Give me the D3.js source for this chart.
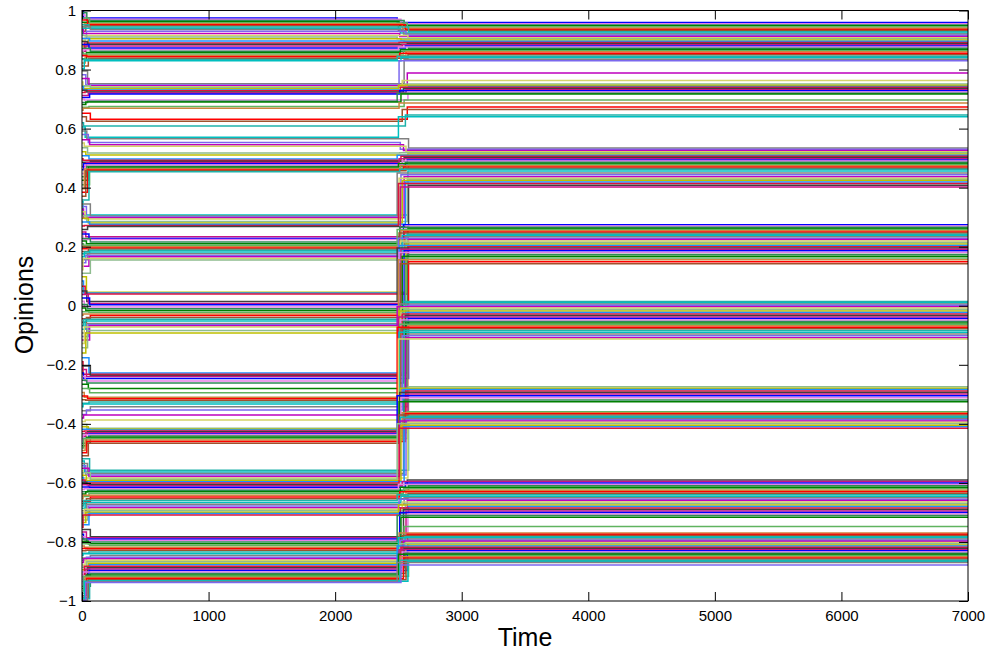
<!DOCTYPE html>
<html><head><meta charset="utf-8">
<script src="https://cdn.jsdelivr.net/npm/d3@7"></script>
<style>body{margin:0;background:#fff} svg{display:block}</style>
</head><body>
<svg id="chart" width="990" height="650"></svg>
<script>
// ---- data ----
const xTicks = [0, 1000, 2000, 3000, 4000, 5000, 6000, 7000];
const yTicks = [-1, -0.8, -0.6, -0.4, -0.2, 0, 0.2, 0.4, 0.6, 0.8, 1];
const xLabel = "Time";
const yLabel = "Opinions";

// opinion at t = 0
const initialOpinions = [
 0.998,0.985,0.992,0.960,0.975,0.940,0.968,0.930,0.952,0.921,0.945,0.905,0.935,0.898,0.915,0.880,0.905,0.870,0.895,0.862,0.885,0.845,0.872,0.836,0.858,0.822,0.848,0.812,0.835,0.803,
 0.795,0.782,0.770,0.758,0.745,0.735,0.742,0.722,0.730,0.712,0.705,0.700,0.688,0.682,0.672,0.662,
 0.652,0.640,0.620,0.605,0.592,0.580,0.562,0.551,0.535,0.522,0.508,0.498,0.486,0.472,0.461,0.448,0.437,0.425,0.410,0.396,0.384,0.371,0.358,
 0.352,0.345,0.336,0.328,0.318,0.305,0.296,0.284,0.270,0.258,
 0.250,0.243,0.236,0.228,0.219,0.210,0.201,0.193,0.184,0.176,0.166,0.156,0.146,0.134,0.122,0.110,
 0.098,0.084,0.066,
 0.050,0.038,0.026,0.015,0.004,-0.008,-0.020,-0.032,-0.044,-0.056,-0.068,-0.080,-0.092,-0.104,-0.116,-0.128,-0.142,-0.160,
 -0.176,-0.190,-0.204,-0.216,-0.228,-0.240,-0.252,-0.266,-0.280,-0.294,-0.306,-0.318,-0.330,-0.342,-0.356,-0.368,-0.380,-0.392,
 -0.402,-0.410,-0.418,-0.426,-0.434,-0.442,-0.450,-0.458,-0.466,-0.474,-0.482,-0.490,-0.498,-0.508,
 -0.518,-0.526,-0.534,-0.542,-0.550,-0.558,-0.566,-0.574,-0.582,-0.590,-0.598,-0.606,-0.614,-0.622,-0.630,-0.638,-0.646,-0.654,-0.662,-0.670,-0.678,-0.686,-0.694,-0.702,-0.710,-0.718,-0.726,-0.734,-0.742,-0.750,
 -0.758,-0.766,-0.774,-0.782,-0.790,-0.798,-0.806,-0.814,-0.822,-0.830,-0.838,-0.846,-0.854,-0.862,-0.870,-0.878,-0.886,-0.894,-0.902,-0.910,-0.918,-0.926,-0.934,-0.942,-0.950,-0.958,-0.966,-0.974,-0.982,-0.988,-0.992,-0.995,-0.997,-0.999
];

// opinion during first plateau (t ~ 60 .. 2500)
const phase1Opinions = [
 0.975,0.970,0.966,0.962,0.958,0.955,0.952,0.948,0.944,0.940,0.936,0.930,0.922,0.915,0.910,0.904,0.897,0.890,0.886,0.880,0.873,0.867,0.862,0.858,0.853,0.848,0.843,0.838,0.834,0.830,
 0.752,0.748,0.745,0.742,0.739,0.735,0.731,0.728,0.724,0.721,0.717,0.697,0.693,0.690,0.675,0.669,
 0.632,0.625,0.609,0.571,0.566,0.553,0.545,0.540,0.517,0.511,0.497,0.493,0.489,0.485,0.481,0.477,0.472,0.469,0.466,0.463,0.460,0.457,0.454,
 0.307,0.304,0.301,0.298,0.294,0.285,0.280,0.276,0.272,0.268,
 0.234,0.228,0.224,0.216,0.210,0.205,0.200,0.196,0.192,0.188,0.182,0.176,0.170,0.166,0.160,0.155,
 0.046,0.043,0.040,
 0.014,0.008,0.003,-0.004,-0.010,-0.016,-0.022,-0.028,-0.033,-0.040,-0.046,-0.052,-0.060,-0.064,-0.068,-0.072,-0.084,-0.092,
 -0.228,-0.232,-0.236,-0.240,-0.246,-0.255,-0.262,-0.280,-0.295,-0.310,-0.315,-0.320,-0.326,-0.333,-0.342,-0.353,-0.370,-0.387,
 -0.415,-0.418,-0.421,-0.424,-0.427,-0.430,-0.434,-0.437,-0.441,-0.445,-0.450,-0.455,-0.460,-0.466,
 -0.557,-0.563,-0.568,-0.573,-0.578,-0.583,-0.588,-0.592,-0.596,-0.600,-0.605,-0.610,-0.615,-0.620,-0.625,-0.630,-0.636,-0.642,-0.648,-0.654,-0.660,-0.666,-0.672,-0.678,-0.684,-0.689,-0.694,-0.699,-0.704,-0.709,
 -0.782,-0.786,-0.790,-0.795,-0.800,-0.806,-0.812,-0.818,-0.823,-0.828,-0.834,-0.840,-0.846,-0.852,-0.857,-0.862,-0.867,-0.872,-0.877,-0.882,-0.887,-0.892,-0.897,-0.902,-0.907,-0.912,-0.916,-0.920,-0.924,-0.928,-0.931,-0.933,-0.935,-0.937
];

// opinion during second plateau (t ~ 2580 .. 7000)
const phase2Opinions = [
 0.959,0.955,0.951,0.948,0.944,0.940,0.936,0.932,0.928,0.924,0.920,0.916,0.912,0.908,0.904,0.900,0.896,0.892,0.888,0.884,0.880,0.876,0.872,0.868,0.864,0.860,0.855,0.850,0.845,0.840,0.835,0.830,
 0.788,0.763,0.751,0.747,0.743,0.740,0.736,0.732,0.728,0.724,0.720,0.717,0.697,0.687,0.673,0.665,0.646,0.640,
 0.534,0.530,0.526,0.522,0.518,0.514,0.510,0.506,0.502,0.498,0.494,0.490,0.486,0.482,0.478,0.474,0.470,0.466,0.462,0.456,0.450,0.444,0.437,0.432,0.428,0.424,0.419,0.414,0.408,0.402,
 0.274,0.270,0.266,0.262,0.258,0.254,0.250,0.246,0.242,0.238,0.234,0.229,0.224,0.219,0.214,0.209,0.204,0.200,0.196,0.191,0.186,0.180,0.174,0.168,0.162,0.156,0.149,0.142,
 0.014,0.010,0.006,0.002,-0.003,-0.008,-0.013,-0.018,-0.023,-0.028,-0.033,-0.038,-0.043,-0.048,-0.053,-0.058,-0.063,-0.068,-0.073,-0.078,-0.084,-0.090,-0.096,-0.102,-0.108,-0.113,
 -0.274,-0.279,-0.284,-0.289,-0.294,-0.299,-0.305,-0.312,-0.319,-0.325,-0.359,-0.362,-0.366,-0.370,-0.374,-0.378,-0.382,-0.386,-0.390,-0.395,-0.400,-0.405,-0.410,-0.415,
 -0.590,-0.595,-0.600,-0.605,-0.610,-0.615,-0.620,-0.625,-0.630,-0.635,-0.640,-0.645,-0.650,-0.655,-0.660,-0.665,-0.670,-0.675,-0.680,-0.685,-0.690,-0.695,-0.700,-0.705,-0.710,-0.716,
 -0.748,-0.770,-0.774,-0.778,-0.782,-0.786,-0.790,-0.794,-0.798,-0.802,-0.806,-0.810,-0.814,-0.818,-0.822,-0.826,-0.830,-0.834,-0.838,-0.842,-0.846,-0.850,-0.854,-0.858,-0.862,-0.866,-0.870,-0.878
];

// time at which each agent reaches its first plateau, and time it switches (cycled over agents)
const settleTimes = [12, 25, 38, 50, 60, 18, 44, 30, 55, 8, 66, 35];
const switchTimes = [2490, 2520, 2545, 2505, 2570, 2530, 2555, 2500, 2580, 2515, 2540, 2560, 2510, 2575];
const endTime = 7000;

const lineColors = ['#0000ff','#008000','#ff0000','#00bfbf','#bf00bf','#bfbf00','#404040',
  '#e67fe6','#5fb35f','#a0522d','#808080','#d4d46a','#1e90ff','#c71585','#2e8b57',
  '#cd853f','#20b2aa','#7b68ee','#8fbc8f','#dc143c'];

// ---- chart ----
const svg = d3.select('#chart');
const L = 82, R = 968, T = 10.5, B = 601;
const x = d3.scaleLinear().domain([0, 7000]).range([L, R]);
const y = d3.scaleLinear().domain([-1, 1]).range([B, T]);

svg.append('defs').append('clipPath').attr('id', 'clip')
  .append('rect').attr('x', L).attr('y', T).attr('width', R - L).attr('height', B - T);

const agents = phase1Opinions.map((p1, i) => {
  const ts = settleTimes[i % settleTimes.length];
  const sw = switchTimes[i % switchTimes.length];
  return [[0, initialOpinions[i]], [ts, p1], [sw, phase2Opinions[i]], [endTime, phase2Opinions[i]]];
});

const line = d3.line().x(d => x(d[0])).y(d => y(d[1])).curve(d3.curveStepAfter);

svg.append('g').attr('clip-path', 'url(#clip)')
  .selectAll('path').data(agents).join('path')
  .attr('d', line)
  .attr('fill', 'none')
  .attr('stroke', (d, i) => lineColors[(i * 7) % lineColors.length])
  .attr('stroke-width', 1.5);

const font = '"Liberation Sans", Arial, Helvetica, sans-serif';
const fmtY = d3.format('~g');
const fmtX = d3.format('d');

function styleAxis(g) {
  g.select('.domain').remove();
  g.selectAll('.tick line').attr('stroke', '#000');
  g.selectAll('.tick text').attr('fill', '#000').style('font-family', font).style('font-size', '15px');
}

svg.append('g').attr('transform', `translate(0,${B})`)
  .call(d3.axisBottom(x).tickValues(xTicks).tickFormat(fmtX).tickSize(-9).tickPadding(9))
  .call(styleAxis);
svg.append('g').attr('transform', `translate(0,${T})`)
  .call(d3.axisTop(x).tickValues(xTicks).tickFormat('').tickSize(-9))
  .call(styleAxis);
svg.append('g').attr('transform', `translate(${L},0)`)
  .call(d3.axisLeft(y).tickValues(yTicks).tickFormat(fmtY).tickSize(-9).tickPadding(6))
  .call(styleAxis);
svg.append('g').attr('transform', `translate(${R},0)`)
  .call(d3.axisRight(y).tickValues(yTicks).tickFormat('').tickSize(-9))
  .call(styleAxis);

svg.append('rect').attr('x', L).attr('y', T).attr('width', R - L).attr('height', B - T)
  .attr('fill', 'none').attr('stroke', '#000').attr('stroke-width', 1);

svg.append('text').attr('x', 525).attr('y', 646).attr('text-anchor', 'middle')
  .style('font-family', font).style('font-size', '25px').text(xLabel);
svg.append('text').attr('transform', `translate(33,305) rotate(-90)`).attr('text-anchor', 'middle')
  .style('font-family', font).style('font-size', '25px').text(yLabel);
</script>
</body></html>
